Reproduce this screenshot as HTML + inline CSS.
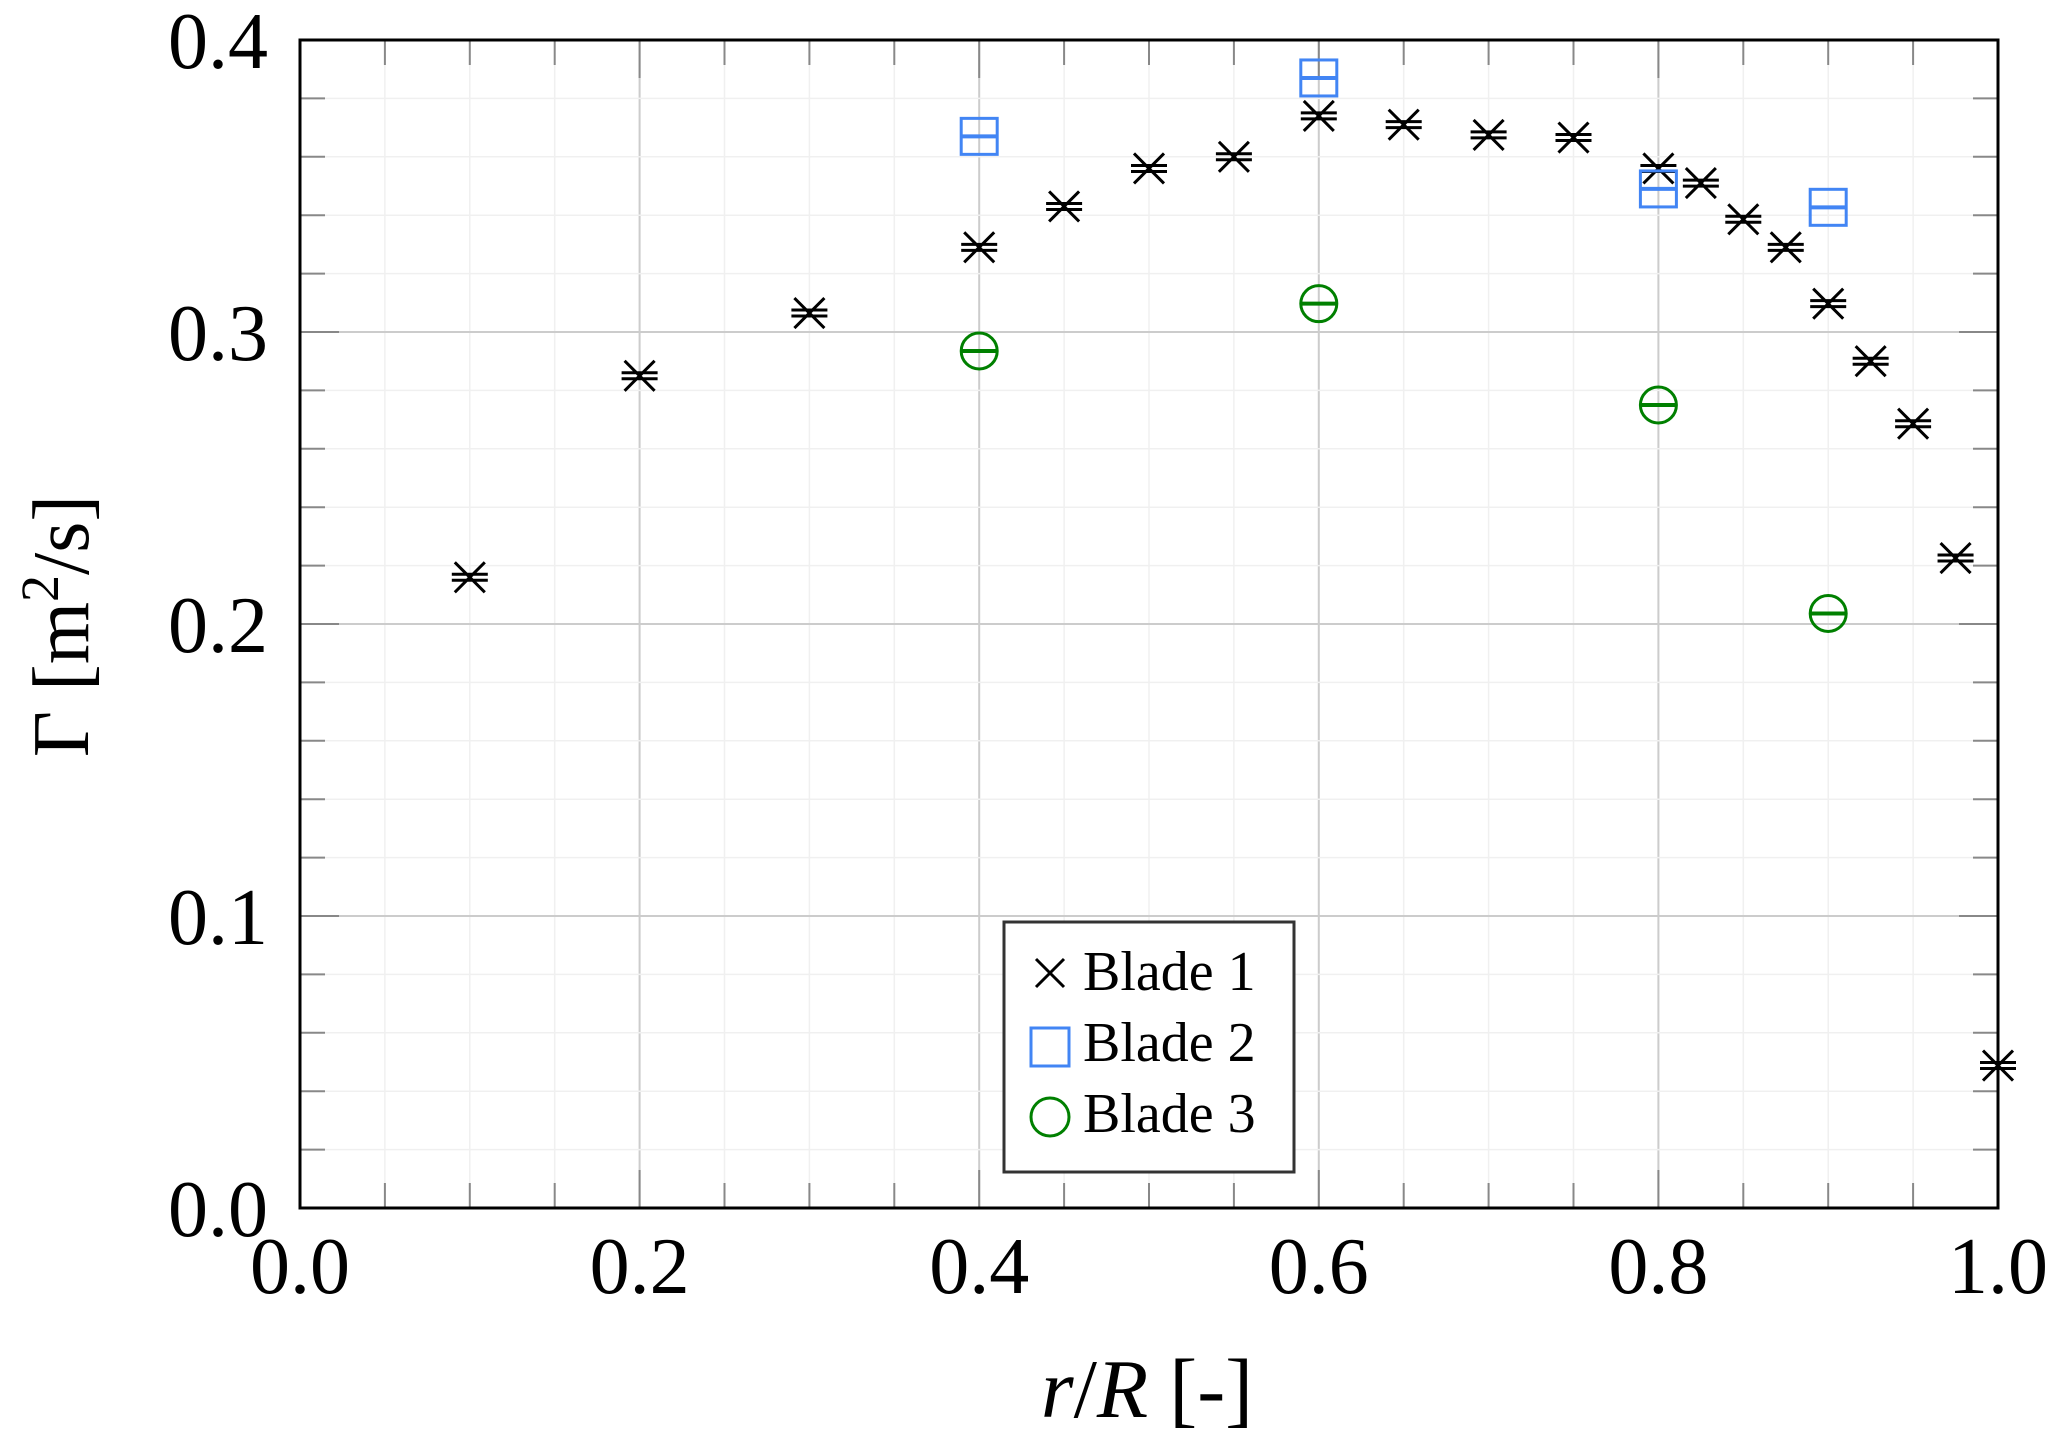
<!DOCTYPE html>
<html><head><meta charset="utf-8">
<style>
html,body{margin:0;padding:0;background:#fff;}
svg{display:block;}
text{font-family:"Liberation Serif","DejaVu Serif",serif;fill:#000;}
</style></head>
<body>
<svg id="chart" width="2067" height="1446" viewBox="0 0 2067 1446" xmlns="http://www.w3.org/2000/svg">
<g id="grid"></g>
<g id="ticks"></g>
<g id="marks"></g>
<rect x="300" y="40" width="1698" height="1168" fill="none" stroke="#000" stroke-width="3"/>
<g id="labels"></g>
<text x="1147" y="1417" font-size="84" text-anchor="middle"><tspan font-style="italic">r</tspan>/<tspan font-style="italic">R</tspan> [-]</text>
<text transform="translate(88,626) rotate(-90)" font-size="80" text-anchor="middle">Γ [m<tspan font-size="54" dy="-30">2</tspan><tspan dy="30">/s]</tspan></text>
<g>
<rect x="1004" y="922" width="290" height="250" fill="#fff" stroke="#333" stroke-width="3"/>
<g>
<path d="M1036 959 L1064 987 M1036 987 L1064 959" stroke="#000" stroke-width="3"/>
<text x="1083" y="990" font-size="56">Blade 1</text></g>
<g>
<rect x="1031" y="1028" width="38" height="38" fill="none" stroke="#4285f4" stroke-width="3"/>
<text x="1083" y="1061" font-size="56">Blade 2</text></g>
<g>
<circle cx="1050" cy="1117" r="19" fill="none" stroke="#008000" stroke-width="3"/>
<text x="1083" y="1132" font-size="56">Blade 3</text></g>
</g>
</svg>
<script>
const xTicks=[0.0,0.2,0.4,0.6,0.8,1.0];
const xTickLabels=["0.0","0.2","0.4","0.6","0.8","1.0"];
const yTicks=[0.0,0.1,0.2,0.3,0.4];
const yTickLabels=["0.0","0.1","0.2","0.3","0.4"];
const blade1X=[0.1,0.2,0.3,0.4,0.45,0.5,0.55,0.6,0.65,0.7,0.75,0.8,0.825,0.85,0.875,0.9,0.925,0.95,0.975,1.0];
const blade1Y=[0.216,0.285,0.3065,0.329,0.343,0.356,0.360,0.374,0.371,0.3675,0.3666,0.356,0.351,0.3386,0.329,0.3097,0.290,0.2686,0.2226,0.0488];
const blade2X=[0.4,0.6,0.8,0.9];
const blade2Y=[0.367,0.387,0.349,0.3427];
const blade3X=[0.4,0.6,0.8,0.9];
const blade3Y=[0.2935,0.3097,0.275,0.2036];
const X0=300,X1=1998,Y0=1208,Y1=40;
function sx(v){return X0+(v-0)/(1-0)*(X1-X0);}
function sy(v){return Y0-(v-0)/(0.4-0)*(Y0-Y1);}
const NS="http://www.w3.org/2000/svg";
function mk(tag,attrs,parent){const e=document.createElementNS(NS,tag);for(const k in attrs)e.setAttribute(k,attrs[k]);parent.appendChild(e);return e;}
const grid=document.getElementById('grid'),ticks=document.getElementById('ticks'),marks=document.getElementById('marks'),labels=document.getElementById('labels');
for(let i=1;i<20;i++){const v=i*0.05;const g=mk('line',{x1:sx(v),x2:sx(v),y1:Y1,y2:Y0,stroke:(i%4===0)?'#cccccc':'#f0f0f0','stroke-width':(i%4===0)?2:1.5},grid);


const t=mk('line',{x1:sx(v),x2:sx(v),y1:Y0,y2:Y0-((i%4===0)?38:25),stroke:'#888','stroke-width':2},ticks);


const t2=mk('line',{x1:sx(v),x2:sx(v),y1:Y1,y2:Y1+((i%4===0)?38:25),stroke:'#888','stroke-width':2},ticks);

}
for(let i=1;i<20;i++){const v=i*0.02;const g=mk('line',{x1:X0,x2:X1,y1:sy(v),y2:sy(v),stroke:(i%5===0)?'#cccccc':'#f0f0f0','stroke-width':(i%5===0)?2:1.5},grid);


const t=mk('line',{x1:X0,x2:X0+((i%5===0)?39:25),y1:sy(v),y2:sy(v),stroke:'#888','stroke-width':2},ticks);


const t2=mk('line',{x1:X1,x2:X1-((i%5===0)?39:25),y1:sy(v),y2:sy(v),stroke:'#888','stroke-width':2},ticks);

}
xTicks.forEach((v,i)=>{const t=mk('text',{x:sx(v),y:1293,'font-size':80,'text-anchor':'middle'},labels);t.textContent=xTickLabels[i];

});
yTicks.forEach((v,i)=>{const t=mk('text',{x:268,y:sy(v)+28,'font-size':80,'text-anchor':'end'},labels);t.textContent=yTickLabels[i];

});
blade1X.forEach((v,i)=>{const cx=sx(v),cy=sy(blade1Y[i]);
const p=mk('path',{d:`M${cx-15} ${cy-15}L${cx+15} ${cy+15}M${cx-15} ${cy+15}L${cx+15} ${cy-15}M${cx-18} ${cy-3}L${cx+18} ${cy-3}M${cx-18} ${cy+3}L${cx+18} ${cy+3}`,stroke:'#000','stroke-width':3,fill:'none'},marks);

});
blade2X.forEach((v,i)=>{const cx=sx(v),cy=sy(blade2Y[i]);
const r=mk('rect',{x:cx-18,y:cy-18,width:36,height:36,fill:'none',stroke:'#4285f4','stroke-width':3},marks);


const l=mk('path',{d:`M${cx-18} ${cy}L${cx+18} ${cy}`,stroke:'#4285f4','stroke-width':4},marks);

});
blade3X.forEach((v,i)=>{const cx=sx(v),cy=sy(blade3Y[i]);
const c=mk('circle',{cx:cx,cy:cy,r:18,fill:'none',stroke:'#008000','stroke-width':3},marks);


const l=mk('path',{d:`M${cx-18} ${cy}L${cx+18} ${cy}`,stroke:'#008000','stroke-width':4},marks);

});
</script>
</body></html>
